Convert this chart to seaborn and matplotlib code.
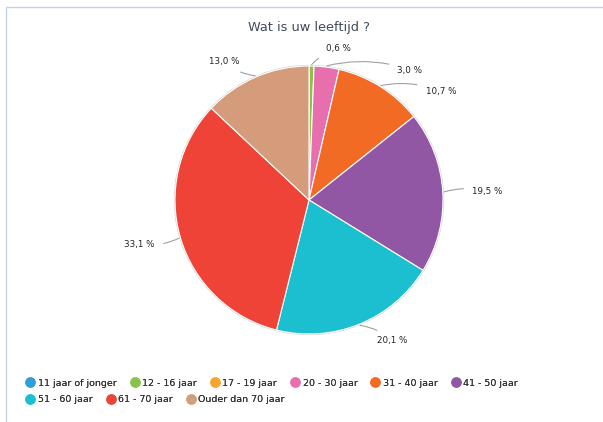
import numpy as np
import matplotlib.pyplot as plt
import seaborn as sns
from matplotlib.lines import Line2D
from matplotlib.patches import Rectangle

# data
categories = ['11 jaar of jonger', '12 - 16 jaar', '17 - 19 jaar', '20 - 30 jaar',
              '31 - 40 jaar', '41 - 50 jaar', '51 - 60 jaar', '61 - 70 jaar',
              'Ouder dan 70 jaar']
percentages = [0.0, 0.6, 0.0, 3.0, 10.7, 19.5, 20.1, 33.1, 13.0]
colors = ['#2f9fdb', '#8bc34a', '#f7a531', '#e76fae', '#f26b25',
          '#9157a5', '#1cbfcf', '#f04338', '#d59c7c']
title = 'Wat is uw leeftijd ?'

# label anchor (x, y) in pie-radius units per visible slice
label_layout = {
    '12 - 16 jaar': (0.08, 1.13),
    '20 - 30 jaar': (0.61, 0.97),
    '31 - 40 jaar': (0.82, 0.81),
    '41 - 50 jaar': (1.17, 0.06),
    '51 - 60 jaar': (0.46, -1.05),
    '61 - 70 jaar': (-1.10, -0.33),
    'Ouder dan 70 jaar': (-0.47, 1.03),
}

sns.set_theme(style='white')
plt.rcParams['font.family'] = ['DejaVu Sans']

W, H = 603, 422
fig = plt.figure(figsize=(W / 100, H / 100), dpi=100)
ax = fig.add_axes([0, 0, 1, 1])
cx, cy, r = 309, 200, 134

vis = [(c, p, col) for c, p, col in zip(categories, percentages, colors) if p > 0]
wedges, _ = ax.pie([p for _, p, _ in vis], colors=[col for _, _, col in vis],
                   startangle=90, counterclock=False, radius=1.0,
                   wedgeprops=dict(edgecolor='white', linewidth=0.8))
ax.add_patch(plt.Circle((0, 0), 1.004, fill=False, ec='#cfcfcf', lw=0.8, zorder=0))

ax.set_xlim(-cx / r, (W - cx) / r)
ax.set_ylim((cy - H) / r, cy / r)
ax.set_aspect('equal')
ax.axis('off')

for w, (c, p, col) in zip(wedges, vis):
    ang = np.deg2rad((w.theta1 + w.theta2) / 2)
    ex, ey = np.cos(ang), np.sin(ang)
    lx, ly = label_layout[c]
    ha = 'left' if lx >= ex else 'right'
    ax.annotate(f'{p:.1f} %'.replace('.', ','), xy=(ex * 1.01, ey * 1.01),
                xytext=(lx + (0.05 if ha == 'left' else -0.05), ly),
                ha=ha, va='center', fontsize=6.3, color='#222222',
                arrowprops=dict(arrowstyle='-', color='#a0a0a0', lw=0.8,
                                shrinkA=4, shrinkB=0,
                                connectionstyle='arc3,rad=0.15'))

fig.text(cx / W, 1 - 28 / H, title, ha='center', va='center',
         fontsize=9.3, color='#3e4b5b')

# frame
fig.patches.append(Rectangle((6 / W, -0.05), 1.1, 1 - 7 / H + 0.05,
                             transform=fig.transFigure, fill=False,
                             ec='#c3d3e6', lw=1))

handles = [Line2D([0], [0], marker='o', ls='', markersize=6.5,
                  markerfacecolor=col, markeredgecolor=col) for col in colors]
rows = [(0, 6, 383), (6, 9, 400)]
for a, b, y in rows:
    leg = fig.legend(handles[a:b], categories[a:b], loc='center left',
                     bbox_to_anchor=(27 / W, 1 - y / H), ncol=b - a,
                     frameon=False, fontsize=6.8, handlelength=0.7,
                     handletextpad=0.45, columnspacing=1.55, borderpad=0,
                     borderaxespad=0, labelcolor='#333333')
    fig.add_artist(leg)

fig.savefig('out.png', dpi=100)
